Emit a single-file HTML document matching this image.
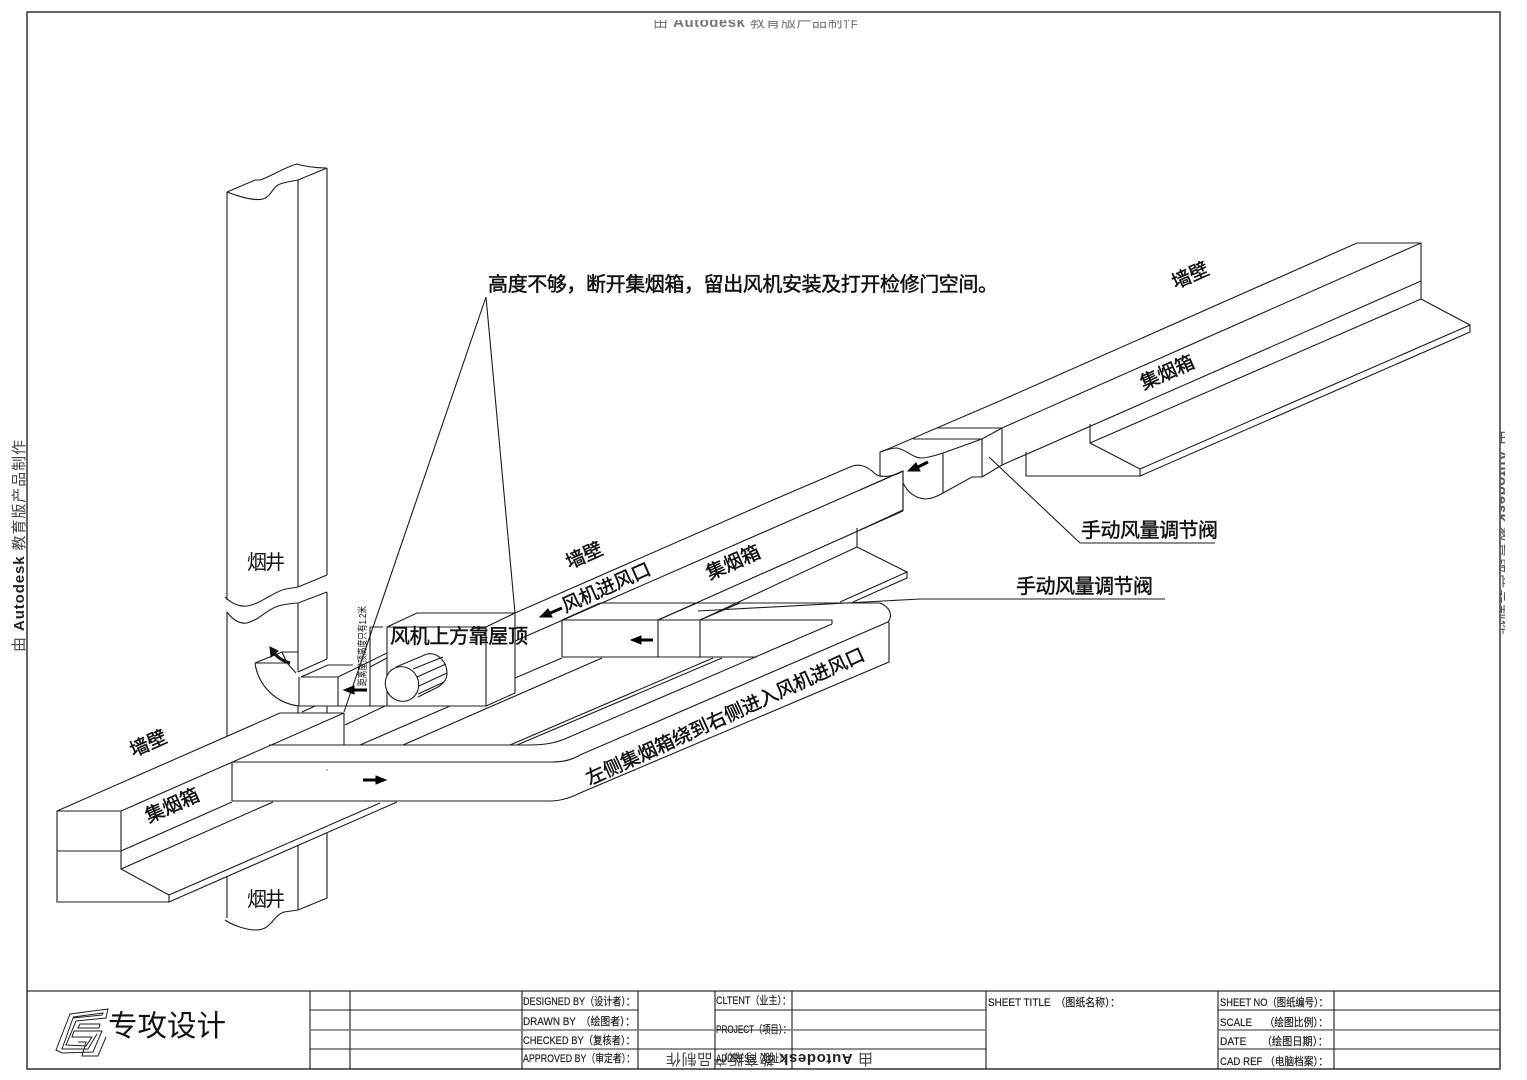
<!DOCTYPE html>
<html lang="zh"><head><meta charset="utf-8"><title>集烟箱安装示意图</title>
<style>
html,body{margin:0;padding:0;background:#fff;width:1527px;height:1080px;overflow:hidden}
svg{display:block}
text{font-family:"Liberation Sans","Noto Sans CJK SC",sans-serif;fill:#111}
.l{fill:none;stroke:#1c1c1c;stroke-width:1.1}
.b{font-size:20px;stroke:#111;stroke-width:.45}
.r{font-size:19px;stroke:#111;stroke-width:.45}
.t{font-size:11px;fill:#222;stroke:#222;stroke-width:.2}
.w{font-size:15px;fill:#444}
</style></head><body>
<svg width="1527" height="1080" viewBox="0 0 1527 1080" xmlns="http://www.w3.org/2000/svg">
<defs>
<clipPath id="ct"><rect x="600" y="20" width="320" height="9"/></clipPath>
<clipPath id="cr"><rect x="1501" y="400" width="4" height="260"/></clipPath>
</defs>
<!-- frame -->
<path d="M27 12H1500V1069H27Z" fill="none" stroke="#333" stroke-width="1.5"/>
<path d="M1500 12V1069" stroke="#666" stroke-width="2"/>
<path d="M27 991H1500" stroke="#333" stroke-width="1.3"/>
<!-- watermarks -->
<g clip-path="url(#ct)"><text x="653" y="27" font-size="15" textLength="205" style="fill:#777">由 <tspan font-weight="700">Autodesk</tspan> 教育版产品制作</text></g>
<text class="w" transform="translate(24,652) rotate(-90)" textLength="212">由 <tspan font-weight="700" style="fill:#222">Autodesk</tspan> 教育版产品制作</text>
<text class="w" transform="translate(873,1054) rotate(180)" textLength="207">由 <tspan font-weight="700" style="fill:#222">Autodesk</tspan> 教育版产品制作</text>
<g clip-path="url(#cr)"><text class="w" transform="translate(1497,430) rotate(90)" textLength="205" style="fill:#555">由 <tspan font-weight="700">Autodesk</tspan> 教育版产品制作</text></g>

<!-- chimney -->
<path class="l" d="M227 192L255 180H260C270 177 285 167 297 164C303 166 315 168 327 168"/>
<path class="l" d="M227 192C240 197 255 201 263 199C272 196 272 187 280 184C286 182 292 181 298 180L327 168"/>
<path class="l" d="M227 192V600M298 180V587M327 168V575"/>
<path class="l" d="M225 597C232 604 240 607 247 606C258 604 264 599 270 596C276 593 280 590 286 589L298 587L327 575"/>
<path class="l" d="M227 612C233 620 240 624 247 623C258 620 264 613 270 610C276 606 283 604 298 603L327 592"/>
<path class="l" d="M227 612V736M298 603V672M327 592V659"/>
<path class="l" d="M298 672L327 659"/>
<path class="l" d="M298 706V713M327 706V713M302 712L315 706"/>
<!-- chimney lower -->
<path class="l" d="M227 877V918M298 845V910M327 833V898L298 910"/>
<path class="l" d="M225 920C232 925 246 930 256 930C272 930 272 916 284 912L298 910"/>

<!-- elbow -->
<path class="l" d="M255 663A50 50 0 0 0 299 706"/>
<path class="l" d="M255 663L282 652H298M282 652L287 663M255 663H287L296 673"/>
<path class="l" d="M299 677V706M301 677H338V706M299 706H487"/>
<path class="l" d="M301 677L328 665H353M338 677L387 653"/>
<path d="M290 663C282 661 276 656 273 652" fill="none" stroke="#111" stroke-width="3"/>
<path d="M270 647L278 651L271 657Z" fill="#111" stroke="#111"/>

<!-- fan box -->
<path class="l" d="M387 627V706M370 627V706M370 627H383M387 627H486V706M387 627L417 613H515L486 627M515 613V693L486 706"/>
<path class="l" d="M370 667L387 658"/>
<ellipse class="l" cx="402" cy="684" rx="16.500" ry="17.500" transform="rotate(-25 402 684)" style="fill:#fff"/>
<path class="l" d="M396 667L427 654C438 652 447 662 447 673C447 680 443 684 438 687L418 697"/>
<path class="l" d="M413 669L443 657M417 677L446 664M419 686L447 673M418 694L444 682"/>

<!-- leader triangle -->
<path class="l" d="M486 297L344 712M486 297L515 613"/>

<!-- wall duct left portion with fan -->
<path class="l" d="M515 613L773 500L850 467C858 463 866 466 872 471C876 475 880 477 883 476"/>
<path class="l" d="M515 641L837 500L903 471"/>
<path class="l" d="M515 678L562 658M658 620L903 511M903 471V511"/>
<path class="l" d="M403 745L602 658M700 620L857 547M857 528V547"/>
<path class="l" d="M857 547L907 572L840 602M907 572V578L853 602"/>
<path class="l" d="M360 745L450 706M345 725L385 706"/>

<!-- small box -->
<path class="l" d="M562 620V657M658 620V657M700 620V657M562 620H832V624M562 657H757"/>
<path class="l" d="M562 620L600 603M658 620L697 603M700 620L740 603"/>

<!-- loop duct -->
<path class="l" d="M232 762H552C562 762 572 760 580 755L888 622C892 617 892 608 880 603H600"/>
<path class="l" d="M232 801H550C560 801 570 798 580 793L889 662V622"/>
<path class="l" d="M232 762V801M269 745H527C545 745 556 743 567 738L832 624"/>
<path class="l" d="M510 745L713 658M517 745L722 658"/>
<path class="l" d="M698 611L920 599H1165"/>

<!-- left hood -->
<path class="l" d="M57 811L280 713H344L121 811H57V902H169V895L121 869V811M57 851H121L232 802M121 869L273 802M169 895L380 803M169 902L397 802M344 713V745"/>
<circle cx="327" cy="770" r=".7" fill="#666"/>

<!-- right hood -->
<path class="l" d="M881 452L1002 400L1357 243H1421V299L1470 325V332L1140 476V469L1470 325M1140 469L1090 443V424M1090 443L1421 299"/>
<path class="l" d="M1002 428L1421 243M1002 465L1421 281M1026 452V476H1140"/>
<!-- joint -->
<path class="l" d="M880 476V452C886 450 890 448 897 448C905 449 913 458 921 458C929 458 936 455 943 453L982 439L1002 428H937M913 439H982"/>
<path class="l" d="M943 453V493M982 439V477M1002 428V465M982 477L1002 465"/>
<path class="l" d="M903 483C908 493 915 498 925 499C932 499 938 496 943 493L972 477H982"/>
<path class="l" d="M860 490L903 471V510L860 530"/>
<path class="l" d="M880 476C886 477 895 476 903 471"/>
<path class="l" d="M989 457L1080 543H1215"/>

<!-- arrows -->
<g fill="#000" stroke="#000" stroke-width="3">
<path d="M353 690H367"/><path d="M344 690L354 686V694Z" stroke-width="1"/>
<path d="M363 780H377"/><path d="M386 780L376 776V784Z" stroke-width="1"/>
<path d="M639 640H653"/><path d="M631 640L641 636V644Z" stroke-width="1"/>
<path d="M548 614L562 608"/><path d="M540 617L548 609L552 617Z" stroke-width="1"/>
<path d="M916 468L928 462"/><path d="M908 471L916 463L920 471Z" stroke-width="1"/>
</g>

<!-- labels -->
<text class="b" x="488" y="291" textLength="510">高度不够，断开集烟箱，留出风机安装及打开检修门空间。</text>
<text x="247" y="569" font-size="20" textLength="38">烟井</text>
<text x="247" y="906" font-size="20" textLength="38">烟井</text>
<text class="r" transform="translate(148,743) rotate(-24)" text-anchor="middle" y="7">墙壁</text>
<text class="r" transform="translate(584,555) rotate(-24)" text-anchor="middle" y="7">墙壁</text>
<text class="r" transform="translate(1190,275) rotate(-24)" text-anchor="middle" y="7">墙壁</text>
<text class="r" transform="translate(172,805) rotate(-24)" text-anchor="middle" y="7">集烟箱</text>
<text class="r" transform="translate(733,562) rotate(-24)" text-anchor="middle" y="7">集烟箱</text>
<text class="r" transform="translate(1167,372) rotate(-24)" text-anchor="middle" y="7">集烟箱</text>
<text class="r" transform="translate(606,587) rotate(-24)" text-anchor="middle" y="7">风机进风口</text>
<text class="b" x="390" y="643" textLength="138">风机上方靠屋顶</text>
<text class="b" x="1016" y="593" textLength="137">手动风量调节阀</text>
<text class="b" x="1081" y="537" textLength="137">手动风量调节阀</text>
<text class="r" transform="translate(725,716) rotate(-24.500)" text-anchor="middle" y="7">左侧集烟箱绕到右侧进入风机进风口</text>
<text transform="translate(366,686) rotate(-90)" font-size="10" textLength="80" lengthAdjust="spacingAndGlyphs">距离屋顶高度只有1.2米</text>

<!-- title block -->
<path class="l" d="M310 991V1069M350 991V1069M522 991V1069M638 991V1069M715 991V1069M792 991V1069M986 991V1069M1218 991V1069M1334 991V1069"/>
<path class="l" d="M310 1010H638M715 1010H986M1218 1010H1500"/>
<path d="M310 1030H986M1218 1030H1500" stroke="#777" stroke-width="1.6"/>
<path class="l" d="M310 1049H986M1218 1049H1500"/>

<g fill="none" stroke="#222" stroke-width="1">
<path d="M70 1014L108 1009L106 1018L76 1021L66 1045L86 1046L92 1037H72L74 1031H102L93 1052L62 1053L56 1050Z"/>
<path d="M73 1017L103 1013L102 1015L73 1018L62 1049L88 1049L97 1034"/>
<path d="M80 1024H100L99 1028H78Z"/>
<path d="M78 1042H86L82 1056H98L106 1037"/>
</g>
<text x="108" y="1036" font-size="29.500" textLength="118" style="font-weight:400">专攻设计</text>

<g>
<text class="t" x="523" y="1005" textLength="112" lengthAdjust="spacingAndGlyphs">DESIGNED BY（设计者）：</text>
<text class="t" x="523" y="1025" textLength="112" lengthAdjust="spacingAndGlyphs">DRAWN BY　（绘图者）：</text>
<text class="t" x="523" y="1044" textLength="112" lengthAdjust="spacingAndGlyphs">CHECKED BY（复核者）：</text>
<text class="t" x="523" y="1062" textLength="112" lengthAdjust="spacingAndGlyphs">APPROVED BY（审定者）：</text>
<text class="t" x="716" y="1004" textLength="75" lengthAdjust="spacingAndGlyphs">CLTENT（业主）：</text>
<text class="t" x="716" y="1033" textLength="75" lengthAdjust="spacingAndGlyphs">PROJECT（项目）：</text>
<text class="t" x="716" y="1062" textLength="75" lengthAdjust="spacingAndGlyphs">ADDRESS（地址）：</text>
<text class="t" x="988" y="1006" textLength="132" lengthAdjust="spacingAndGlyphs">SHEET TITLE　（图纸名称）：</text>
<text class="t" x="1220" y="1006" textLength="108" lengthAdjust="spacingAndGlyphs">SHEET NO（图纸编号）：</text>
<text class="t" x="1220" y="1026" textLength="108" lengthAdjust="spacingAndGlyphs">SCALE　 （绘图比例）：</text>
<text class="t" x="1220" y="1045" textLength="108" lengthAdjust="spacingAndGlyphs">DATE　　（绘图日期）：</text>
<text class="t" x="1220" y="1065" textLength="108" lengthAdjust="spacingAndGlyphs">CAD REF （电脑档案）：</text>
</g>
</svg>
</body></html>
